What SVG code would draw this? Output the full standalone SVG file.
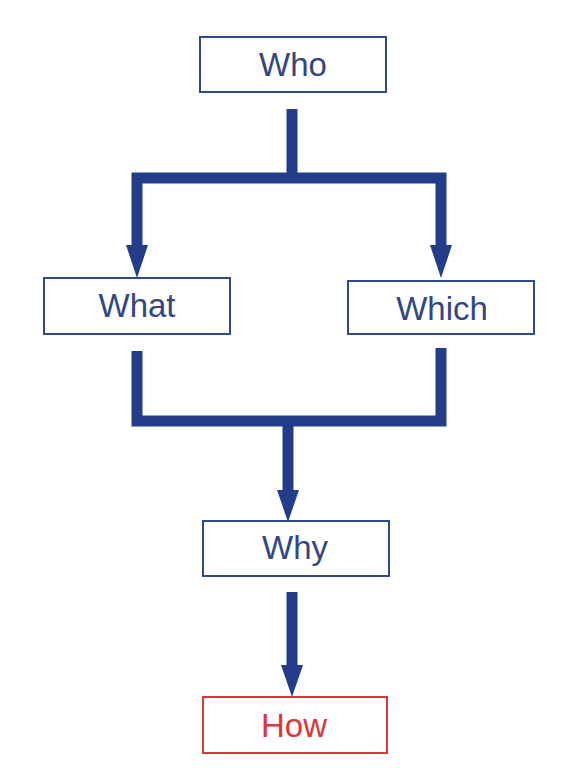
<svg xmlns="http://www.w3.org/2000/svg" width="588" height="768" viewBox="0 0 588 768">
  <style>
    .box { fill: #ffffff; stroke: #2e4a8e; stroke-width: 2; }
    .box.red { stroke: #d8383a; }
    .label { font-family: "Liberation Sans", Arial, sans-serif; font-size: 33px; fill: #34467f; text-anchor: middle; }
    .label.red { fill: #d8383a; }
    .wire { fill: none; stroke: #233d8a; stroke-width: 11; stroke-linejoin: miter; stroke-linecap: butt; }
    .head { fill: #233d8a; }
  </style>
  <rect width="588" height="768" fill="#ffffff"/>

  <g id="connectors">
    <!-- Who splits to What and Which -->
    <path class="wire" d="M292 109 V178"/>
    <path class="wire" d="M137 246 V178 H441 V246"/>
    <polygon class="head" points="126,245 148,245 137,278"/>
    <polygon class="head" points="430,245 452,245 441,278"/>
    <!-- What and Which merge into Why -->
    <path class="wire" d="M137 351 V421 H441 V348"/>
    <path class="wire" d="M288 421 V491"/>
    <polygon class="head" points="277,490 299,490 288,522"/>
    <!-- Why to How -->
    <path class="wire" d="M292 592 V666"/>
    <polygon class="head" points="281,665 303,665 292,697"/>
  </g>

  <g id="who">
    <rect class="box" x="200" y="37" width="186" height="55"/>
    <text class="label" x="293" y="76">Who</text>
  </g>
  <g id="what">
    <rect class="box" x="44" y="278" width="186" height="56"/>
    <text class="label" x="137" y="317">What</text>
  </g>
  <g id="which">
    <rect class="box" x="348" y="281" width="186" height="53"/>
    <text class="label" x="442" y="320">Which</text>
  </g>
  <g id="why">
    <rect class="box" x="203" y="521" width="186" height="55"/>
    <text class="label" x="295" y="559">Why</text>
  </g>
  <g id="how">
    <rect class="box red" x="203" y="697" width="184" height="56"/>
    <text class="label red" x="294" y="737">How</text>
  </g>
</svg>
